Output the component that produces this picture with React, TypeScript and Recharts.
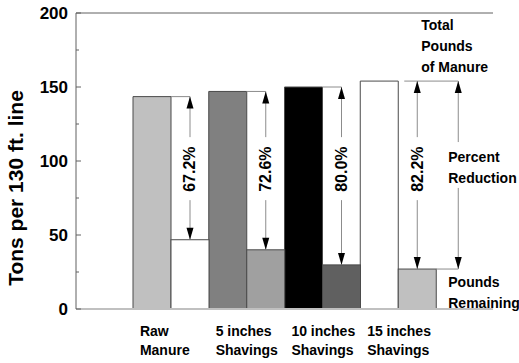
import { BarChart, Bar, XAxis, YAxis, Cell, ReferenceLine } from 'recharts';

const CATEGORY_LINE1 = ['Raw', '5 inches', '10 inches', '15 inches'];
const CATEGORY_LINE2 = ['Manure', 'Shavings', 'Shavings', 'Shavings'];
const TOTAL_POUNDS = [143.5, 147, 150, 154];
const POUNDS_REMAINING = [46.8, 40, 29.8, 27];
const PERCENT_REDUCTION = ['67.2%', '72.6%', '80.0%', '82.2%'];
const Y_TICKS = [0, 25, 50, 75, 100, 125, 150, 175, 200];
const Y_LABELS = [0, 50, 100, 150, 200];

const TOTAL_FILLS = ['#c0c0c0', '#808080', '#000000', '#ffffff'];
const REMAINING_FILLS = ['#ffffff', '#a0a0a0', '#606060', '#c0c0c0'];

const FONT = '"Liberation Sans", Arial, Helvetica, sans-serif';
const LINE = '#8c8c8c';
const BAR_STROKE = '#4a4a4a';

// vertical levels (in tons) for the annotation text
const PCT_LEVEL = 94.5;
const LEGEND_UP_END = 112.8;
const LEGEND_DOWN_START = 81.8;

const data = CATEGORY_LINE1.map((name, i) => ({
  name,
  total: TOTAL_POUNDS[i],
  remaining: POUNDS_REMAINING[i],
  pct: PERCENT_REDUCTION[i],
}));

const head = (ax: number, tipY: number, dir: number) =>
  `${ax},${tipY} ${ax - 3.5},${tipY + dir * 12} ${ax + 3.5},${tipY + dir * 12}`;

function RemainingShape(props: any) {
  const { x, y, width, height, index, payload } = props;
  const base = y + height;
  const k = height / payload.remaining;
  const toY = (v: number) => base - v * k;
  const last = index === data.length - 1;
  const ax = x + width / 2;
  const topY = toY(payload.total);
  const midY = toY(PCT_LEVEL);
  const lx = x + width + 22;

  return (
    <g>
      <rect x={x} y={y} width={width} height={height} fill={REMAINING_FILLS[index]} stroke={BAR_STROKE} strokeWidth={1} />
      <line x1={last ? x + 6 : x} y1={topY} x2={last ? lx : ax} y2={topY} stroke={LINE} />
      <line x1={ax} y1={topY} x2={ax} y2={midY - 32} stroke={LINE} />
      <polygon points={head(ax, topY, 1)} fill="#000" />
      <line x1={ax} y1={midY + 31} x2={ax} y2={y} stroke={LINE} />
      <polygon points={head(ax, y, -1)} fill="#000" />
      <text
        x={ax}
        y={midY}
        transform={`rotate(-90, ${ax}, ${midY})`}
        textAnchor="middle"
        dominantBaseline="central"
        fontSize={16}
        fontWeight="bold"
        fontFamily={FONT}
      >
        {payload.pct}
      </text>
      {last && (
        <g fontFamily={FONT} fontSize={14} fontWeight="bold" fill="#000">
          <line x1={lx} y1={topY} x2={lx} y2={toY(LEGEND_UP_END)} stroke={LINE} />
          <polygon points={head(lx, topY, 1)} fill="#000" />
          <line x1={lx} y1={toY(LEGEND_DOWN_START)} x2={lx} y2={y} stroke={LINE} />
          <polygon points={head(lx, y, -1)} fill="#000" />
          <line x1={x + width} y1={y} x2={lx} y2={y} stroke={LINE} />
          <text x={ax + 4} y={toY(188.5)}>Total</text>
          <text x={ax + 4} y={toY(174.3)}>Pounds</text>
          <text x={ax + 4} y={toY(160.1)}>of Manure</text>
          <text x={lx - 10} y={toY(99.3)}>Percent</text>
          <text x={lx - 10} y={toY(85.1)}>Reduction</text>
          <text x={lx - 10} y={toY(14.9)}>Pounds</text>
          <text x={lx - 10} y={toY(0.7)}>Remaining</text>
        </g>
      )}
    </g>
  );
}

function CategoryTick(props: any) {
  const { x, y, payload } = props;
  const i = CATEGORY_LINE1.indexOf(payload.value);
  const tx = x - 31;
  return (
    <text x={tx} y={y} fontSize={14} fontWeight="bold" fontFamily={FONT} fill="#000">
      <tspan x={tx} dy={27}>{CATEGORY_LINE1[i]}</tspan>
      <tspan x={tx} dy={19}>{CATEGORY_LINE2[i]}</tspan>
    </text>
  );
}

function ValueTick(props: any) {
  const { x, y, payload } = props;
  const major = Y_LABELS.includes(payload.value);
  return (
    <g>
      <line x1={x + 8} y1={y} x2={x + 8 + (major ? 5 : 3)} y2={y} stroke="#606060" />
      {major && (
        <text x={x} y={y} dy="0.36em" textAnchor="end" fontSize={17} fontWeight="bold" fontFamily={FONT} fill="#000">
          {payload.value}
        </text>
      )}
    </g>
  );
}

function AxisTitle(props: any) {
  const vb = props.viewBox;
  const cx = vb.x + 23;
  const cy = vb.y + vb.height / 2 + 27;
  return (
    <text
      x={cx}
      y={cy}
      transform={`rotate(-90, ${cx}, ${cy})`}
      textAnchor="middle"
      fontSize={21}
      fontWeight="bold"
      fontFamily={FONT}
      fill="#000"
    >
      Tons per 130 ft. line
    </text>
  );
}

export default function App() {
  return (
    <div style={{ position: 'absolute', left: 0, top: 0, background: '#fff' }}>
      <BarChart
        width={519}
        height={363}
        data={data}
        margin={{ top: 13, right: 26, bottom: 0, left: 0 }}
        barGap={0}
        barCategoryGap={0}
      >
        <XAxis
          dataKey="name"
          height={54}
          padding={{ left: 57, right: 57 }}
          tickLine={false}
          tickSize={0}
          tickMargin={0}
          interval={0}
          axisLine={{ stroke: '#c0c0c0', strokeWidth: 2 }}
          tick={<CategoryTick />}
        />
        <YAxis
          width={76}
          domain={[0, 200]}
          ticks={Y_TICKS}
          interval={0}
          tickLine={false}
          tickSize={0}
          tickMargin={8}
          axisLine={{ stroke: '#606060' }}
          tick={<ValueTick />}
          label={{ content: <AxisTitle /> }}
        />
        <YAxis
          yAxisId="frame"
          orientation="right"
          width={0}
          domain={[0, 200]}
          tick={false}
          tickLine={false}
          axisLine={{ stroke: '#606060' }}
        />
        <ReferenceLine y={200} stroke="#606060" />
        <Bar dataKey="total" stroke={BAR_STROKE} strokeWidth={1} isAnimationActive={false}>
          {data.map((d, i) => (
            <Cell key={`total-${d.name}`} fill={TOTAL_FILLS[i]} />
          ))}
        </Bar>
        <Bar dataKey="remaining" shape={<RemainingShape />} isAnimationActive={false} />
      </BarChart>
    </div>
  );
}
